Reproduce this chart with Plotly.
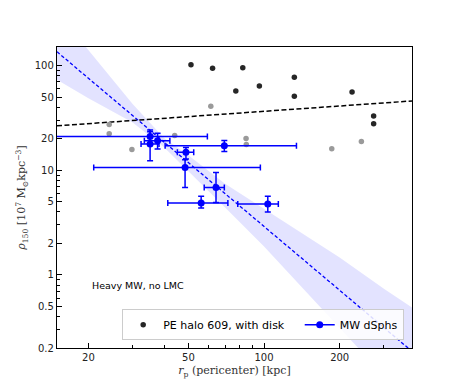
import numpy as np
import plotly.graph_objects as go

# PE halo 609, with disk (dark points)
disk_rp = [51.2, 62.4, 82.3, 77.2, 95.8, 132, 132, 224, 273, 273]
disk_rho = [102, 94.5, 95.7, 57.4, 64.0, 77.4, 51.1, 56.1, 33.1, 27.8]

# grey points (no legend entry)
grey_rp = [61.4, 24.2, 24.2, 29.8, 44.1, 84.8, 85.0, 186, 244]
grey_rho = [41.0, 27.4, 22.3, 15.8, 21.5, 20.1, 17.6, 16.1, 18.8]

# MW dSphs with asymmetric errors
dsph_rp = [35.2, 35.2, 37.7, 48.9, 48.5, 69.5, 64.4, 56.2, 103.5]
dsph_rp_lo = [8.0, 32.4, 33.4, 45.2, 21.0, 40.4, 57.8, 41.4, 78.6]
dsph_rp_hi = [59.5, 38.2, 42.2, 52.5, 96.7, 134.6, 69.5, 71.8, 114.0]
dsph_rho = [21.0, 17.8, 19.1, 14.9, 10.6, 17.2, 6.84, 4.86, 4.76]
dsph_rho_lo = [18.0, 12.3, 16.0, 12.8, 6.85, 15.1, 4.93, 4.36, 3.99]
dsph_rho_hi = [24.3, 23.3, 22.6, 16.5, 12.6, 19.3, 9.53, 5.63, 5.63]

# fit to the dSphs and its uncertainty band
fit_rp = [15, 390]
fit_rho = [135.8, 0.184]
band_rp = [15, 20, 30, 40, 50, 70, 100, 150, 200, 300, 390]
band_hi = [327, 141, 43.1, 20.3, 13.9, 7.45, 4.31, 2.31, 1.47, 0.738, 0.484]
band_lo = [73.3, 48.9, 28.6, 16.6, 9.91, 4.40, 1.87, 0.660, 0.309, 0.109, 0.055]

# black dashed relation
halo_rp = [15, 388]
halo_rho = [26.6, 46.0]

xticks = [20, 50, 100, 200]
xminor = [30, 40, 60, 70, 80, 90, 300]
yticks = [0.2, 0.5, 1, 2, 5, 10, 20, 50, 100]
yminor = [0.3, 0.4, 0.6, 0.7, 0.8, 0.9, 3, 4, 6, 7, 8, 9, 30, 40, 60, 70, 80, 90]

blue = "#0000ff"
fig = go.Figure()

# band
fig.add_trace(go.Scatter(
    x=band_rp + band_rp[::-1], y=band_hi + band_lo[::-1],
    mode="lines", fill="toself", fillcolor="rgba(0,0,255,0.11)",
    line=dict(width=0), hoverinfo="skip", showlegend=False,
))
fig.add_trace(go.Scatter(
    x=fit_rp, y=fit_rho, mode="lines",
    line=dict(color=blue, width=1.3, dash="3.5px,2.2px"),
    showlegend=False,
))
fig.add_trace(go.Scatter(
    x=halo_rp, y=halo_rho, mode="lines",
    line=dict(color="black", width=1.5, dash="5px,2.5px"),
    showlegend=False,
))
fig.add_trace(go.Scatter(
    x=grey_rp, y=grey_rho, mode="markers",
    marker=dict(color="#9a9a9a", size=5.5),
    showlegend=False,
))
fig.add_trace(go.Scatter(
    x=disk_rp, y=disk_rho, mode="markers",
    marker=dict(color="#262626", size=5.5),
    name="PE halo 609, with disk\u00a0\u00a0\u00a0",
))

rp = np.array(dsph_rp)
rho = np.array(dsph_rho)
fig.add_trace(go.Scatter(
    x=rp, y=rho, mode="markers",
    marker=dict(color=blue, size=7),
    error_x=dict(type="data", symmetric=False,
                 array=np.array(dsph_rp_hi) - rp,
                 arrayminus=rp - np.array(dsph_rp_lo),
                 color=blue, thickness=1.5, width=3),
    error_y=dict(type="data", symmetric=False,
                 array=np.array(dsph_rho_hi) - rho,
                 arrayminus=rho - np.array(dsph_rho_lo),
                 color=blue, thickness=1.5, width=3),
    showlegend=False,
))
# legend entry for the dSphs
fig.add_trace(go.Scatter(
    x=[None], y=[None], mode="lines+markers",
    marker=dict(color=blue, size=7), line=dict(color=blue, width=1.5),
    name="MW dSphs",
))

fig.add_annotation(
    x=np.log10(20.3), y=np.log10(0.8), xref="x", yref="y",
    text="Heavy MW, no LMC", showarrow=False, xanchor="left",
    font=dict(family="DejaVu Sans", size=9.5, color="black"),
)

axis_common = dict(
    type="log", showgrid=False, zeroline=False,
    showline=True, mirror=True, linecolor="black", linewidth=1.3,
    ticks="inside", ticklen=5, tickwidth=1, tickcolor="black",
    tickfont=dict(family="DejaVu Sans", size=10, color="#222"),
)

# the page body adds an 8px offset, so the figure is sized to fit inside it
fig.update_layout(
    width=449, height=384,
    margin=dict(l=49, r=45, t=39, b=44),
    plot_bgcolor="white", paper_bgcolor="white",
    xaxis=dict(
        axis_common, range=[np.log10(15), np.log10(388)],
        tickvals=xticks, ticktext=[str(v) for v in xticks],
        minor=dict(tickvals=xminor, ticks="inside", ticklen=3, tickcolor="black"),
        title=dict(text="<i>r</i><sub>p</sub> (pericenter) [kpc]",
                   font=dict(family="DejaVu Serif", size=11, color="#333"),
                   standoff=4),
    ),
    yaxis=dict(
        axis_common, range=[np.log10(0.2), np.log10(150.8)],
        tickvals=yticks, ticktext=["0.2", "0.5", "1", "2", "5", "10", "20", "50", "100"],
        minor=dict(tickvals=yminor, ticks="inside", ticklen=3, tickcolor="black"),
        title=dict(text="<i>ρ</i><sub>150</sub> [10<sup>7</sup> M<sub>⊙</sub>kpc<sup>−3</sup>]",
                   font=dict(family="DejaVu Serif", size=11, color="#333"),
                   standoff=6),
    ),
    legend=dict(
        orientation="h", x=0.978, xanchor="right", y=0.026, yanchor="bottom",
        bgcolor="rgba(255,255,255,0.85)", bordercolor="#cccccc", borderwidth=1,
        font=dict(family="DejaVu Sans", size=11, color="black"),
    ),
)

fig.write_html("out.html")
